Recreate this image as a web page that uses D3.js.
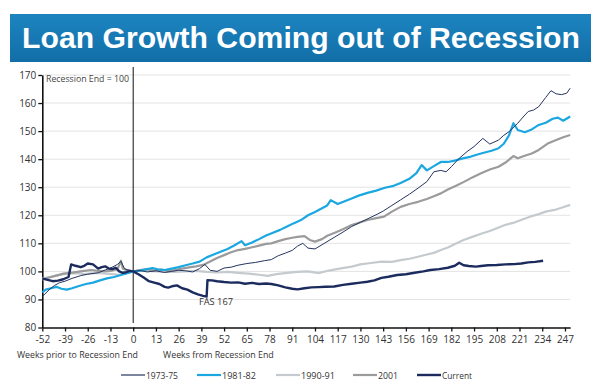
<!DOCTYPE html>
<html><head><meta charset="utf-8">
<script src="https://cdn.jsdelivr.net/npm/d3@7/dist/d3.min.js"></script>
<style>body{margin:0;background:#fff}svg{display:block}</style>
</head><body>
<svg id="c" width="600" height="381"></svg>
<script>
// ---- data: [week, index] pairs ----
const s1973 = [[-52,91],[-48,93.5],[-45,95],[-42,96],[-39,96.5],[-35,97.5],[-30,98.5],[-26,99],[-20,99.5],[-16,100.5],[-12,101.5],[-9,102.5],[-7,103.6],[-5,101],[-3,100.5],[0,100],[4,100.3],[8,99.8],[13,100.2],[18,99.6],[22,100],[26,100.4],[30,100.2],[34,99.8],[38,101],[41,102.5],[44,100.4],[48,100],[52,101.2],[56,101.5],[60,102.2],[65,102.8],[70,103.2],[75,103.8],[79,104.2],[83,105.6],[87,106.5],[91,107.5],[94,109],[97,110],[100,108.3],[104,108],[108,109.5],[112,111],[116,112.5],[120,114],[125,116],[130,117.5],[135,119],[140,120.5],[143,121.5],[148,123.5],[153,125.5],[158,127.5],[163,129.7],[168,132],[172,135.5],[176,136],[179,135.5],[182,137.3],[186,140],[191,142.7],[195,144.5],[200,147.4],[204,145.4],[209,146.8],[212,148.5],[215,149.8],[220,152.8],[223,155],[226,157],[229,157.5],[232,158.7],[236,162],[239,164.4],[242,163.3],[245,163],[248,163.5],[250,165.3]];
const s1981 = [[-52,92.5],[-50,93.5],[-47,94],[-44,94.5],[-41,93.8],[-38,93.5],[-35,94],[-31,94.8],[-27,95.5],[-23,96],[-19,96.8],[-15,97.5],[-11,98],[-7,98.7],[-4,99.3],[0,100],[4,100.3],[8,100.8],[11,101.2],[14,100.7],[18,100.5],[22,101],[26,101.5],[30,102.2],[34,102.8],[38,103.5],[42,105],[46,106],[50,107],[54,108],[58,109.3],[62,110.8],[64,109.3],[68,110.3],[72,111.5],[76,112.8],[80,113.8],[84,114.8],[88,116],[92,117.2],[96,118.3],[100,120],[104,121.2],[108,122.5],[111,123.5],[113,125.4],[117,124],[121,125],[125,126],[129,127],[134,128],[139,128.8],[144,129.8],[149,130.5],[153,131.5],[158,133],[162,135],[165,137.9],[168,136],[172,137.5],[176,139],[180,139],[184,139.5],[188,140.2],[192,140.7],[196,141.5],[200,142.2],[205,143],[209,143.9],[212,145.5],[215,148.5],[217.5,152.8],[220,150.4],[224,149.6],[228,150.6],[232,152.2],[236,153],[240,154.4],[243,154.8],[246,153.7],[250,155.2]];
const s1990 = [[-52,97.5],[-48,98],[-44,98.5],[-40,99],[-36,99.3],[-32,99.4],[-28,99],[-24,99.3],[-20,99.5],[-16,99.2],[-12,99],[-8,98.8],[-4,99.3],[0,100],[4,100.3],[8,100.2],[13,100],[18,99.8],[24,99.8],[30,100],[36,100.2],[42,99.8],[48,99.6],[54,99.8],[60,99.5],[66,99.2],[72,98.8],[77,98.4],[82,99],[88,99.5],[94,99.8],[100,100],[106,99.4],[112,100.3],[118,101],[125,101.7],[130,102.5],[136,103],[142,103.5],[148,103.4],[153,104],[158,104.5],[163,105.2],[168,106],[172,106.6],[176,107.6],[180,108.5],[185,110],[189,111.2],[194,112.3],[199,113.4],[204,114.4],[208,115.4],[213,116.6],[218,117.4],[223,118.6],[227,119.5],[232,120.4],[236,121.3],[241,121.9],[245,122.7],[250,123.7]];
const s2001 = [[-52,97],[-48,97.8],[-44,98.5],[-40,99.2],[-36,99.5],[-32,99.8],[-28,100.2],[-24,100.5],[-20,100.2],[-16,100],[-12,100.3],[-9,100.8],[-7,103.8],[-6,101],[-4,100.5],[0,100],[4,100.5],[8,100.8],[12,100.3],[16,100.6],[20,100.2],[24,100.5],[28,101],[32,101.4],[36,101.8],[40,102.3],[44,103.5],[48,104.8],[52,105.8],[56,106.8],[60,107.6],[64,108],[68,108.6],[72,109.2],[76,109.8],[79,110],[83,110.8],[87,111.5],[91,112],[94,112.3],[98,112.6],[101,111.2],[104,110.6],[108,111.5],[111,112.7],[115,113.7],[120,115],[125,116.5],[130,117.5],[134,118.3],[139,119],[143.5,119.5],[148,121.3],[153,123],[158,124],[163,124.8],[168,125.8],[172,126.8],[176,127.8],[180,129.2],[185,130.6],[189.5,132],[194,133.5],[199,135],[204,136.3],[209,137.3],[213,138.8],[217.5,141.1],[220,140.3],[224,141.2],[228,142],[232,143.3],[237.5,145.7],[242,146.8],[246,147.8],[250,148.6]];
const sCurrent = [[-52,97.5],[-49,97],[-46,96.5],[-43,96.7],[-40,97.2],[-37,98],[-35.5,102.5],[-33,102],[-30,101.5],[-28,102],[-26,102.8],[-23,102.5],[-20,101],[-18,101.5],[-16,101.8],[-14,101],[-12,100.8],[-10,101.3],[-8,100],[-6,99.5],[-4,99.7],[-2,100.2],[0,100],[3,99],[6,97.8],[9,96.5],[12,96],[15,95.5],[18,94.5],[20,94.2],[23,94.8],[25,95],[28,94],[31,93.5],[34,92.5],[37,91.8],[40,91.3],[42,91],[42.5,96.9],[45,96.8],[48,96.5],[52,96.2],[56,96],[60,96.1],[64,95.6],[68,95.9],[72,95.5],[76,95.7],[79,95.5],[83,95],[87,94.3],[91,93.8],[94,93.6],[98,94],[102,94.3],[106,94.4],[110,94.5],[115,94.6],[120,95.2],[125,95.6],[130,96],[134,96.3],[138,96.8],[142,97.7],[146,98.1],[151,98.7],[156,99],[161,99.5],[166,100],[170,100.5],[175,100.8],[180,101.3],[184,102],[186.5,103.1],[189,102.2],[192,101.9],[196,101.7],[199,101.9],[203,102.2],[208,102.3],[213,102.5],[218,102.6],[222,102.8],[226,103.2],[230,103.4],[234.5,103.8]];

const seriesNames = ["1973-75","1981-82","1990-91","2001","Current"];
const xTicks = d3.range(-52, 248, 13);
const yTicks = [80,90,100,110,120,130,140,150,160,170];
const titleText = "Loan Growth Coming out of Recession";

// ---- layout ----
const svg = d3.select("#c");
const x = d3.scaleLinear().domain([-52, 250]).range([42.3, 570.2]);
const y = d3.scaleLinear().domain([80, 170]).range([327.5, 75]);
const FONT = "'Open Sans', 'DejaVu Sans', sans-serif";

function fit(sel, w) {
  const fs = parseFloat(sel.attr("font-size"));
  const len = sel.node().getComputedTextLength();
  if (len > 0) sel.attr("font-size", (fs * w / len).toFixed(2));
  return sel;
}

// title bar
const defs = svg.append("defs");
const g = defs.append("linearGradient").attr("id","tb").attr("x1",0).attr("y1",0).attr("x2",0).attr("y2",1);
g.append("stop").attr("offset","0%").attr("stop-color","#1c84c0");
g.append("stop").attr("offset","100%").attr("stop-color","#126ea7");
svg.append("rect").attr("x",10).attr("y",14).attr("width",581).attr("height",48).attr("fill","url(#tb)");
const t = svg.append("text").attr("x",301).attr("y",48).attr("text-anchor","middle")
  .attr("font-family","'Liberation Sans', Arial, sans-serif").attr("font-weight","bold")
  .attr("font-size",28).attr("fill","#fff").text(titleText);
fit(t, 558);

// grid
svg.append("g").selectAll("line").data(yTicks.filter(d=>d>80)).join("line")
  .attr("x1",x(-52)).attr("x2",x(250)).attr("y1",d=>y(d)).attr("y2",d=>y(d))
  .attr("stroke","#e3e3e3").attr("stroke-width",1);

// vertical line at week 0
svg.append("line").attr("x1",x(0)).attr("x2",x(0)).attr("y1",67).attr("y2",323)
  .attr("stroke","#111").attr("stroke-width",1);

// axes
const yAxis = svg.append("g").attr("transform",`translate(${x(-52)},0)`)
  .call(d3.axisLeft(y).tickValues(yTicks).tickSize(4).tickSizeOuter(0).tickFormat(d => String(d)));
const xAxis = svg.append("g").attr("transform",`translate(0,${y(80)})`)
  .call(d3.axisBottom(x).tickValues(xTicks).tickSize(4).tickSizeOuter(0).tickFormat(d => String(d)));
[yAxis, xAxis].forEach(a => {
  a.select(".domain").attr("stroke","#111").attr("stroke-width",1.6);
  a.selectAll(".tick line").attr("stroke","#111").attr("stroke-width",1.3);
  a.selectAll("text").attr("font-family",FONT).attr("font-size",10).attr("fill","#333");
});
yAxis.selectAll("text").attr("x",-6);
xAxis.selectAll("text").attr("y",8);

// lines
const line = d3.line().x(d=>x(d[0])).y(d=>y(d[1]));
const styles = {
  "1973-75": {data:s1973, color:"#26345f", w:1},
  "1981-82": {data:s1981, color:"#1aa7e2", w:2.2},
  "1990-91": {data:s1990, color:"#c4cacd", w:2.2},
  "2001":    {data:s2001, color:"#9b9b9b", w:2.2},
  "Current": {data:sCurrent, color:"#1b2b5e", w:2.4}
};
["1990-91","2001","1981-82","1973-75","Current"].forEach(k => {
  const s = styles[k];
  svg.append("path").datum(s.data).attr("d",line).attr("fill","none")
    .attr("stroke",s.color).attr("stroke-width",s.w).attr("stroke-linejoin","round");
});

// annotations
fit(svg.append("text").attr("x",46).attr("y",82).attr("font-family",FONT).attr("font-size",9)
  .attr("fill","#444").text("Recession End = 100"), 83);
fit(svg.append("text").attr("x",199).attr("y",305).attr("font-family",FONT).attr("font-size",10)
  .attr("fill","#333").text("FAS 167"), 34);
fit(svg.append("text").attr("x",17).attr("y",358).attr("font-family",FONT).attr("font-size",10)
  .attr("fill","#333").text("Weeks prior to Recession End"), 121);
fit(svg.append("text").attr("x",163).attr("y",358).attr("font-family",FONT).attr("font-size",10)
  .attr("fill","#333").text("Weeks from Recession End"), 111);

// legend
const legX = {"1973-75":121,"1981-82":197,"1990-91":276,"2001":353,"Current":417};
const legW = {"1973-75":32,"1981-82":34,"1990-91":34,"2001":20,"Current":30};
seriesNames.forEach(k => {
  const s = styles[k], lx = legX[k];
  svg.append("line").attr("x1",lx).attr("x2",lx+24).attr("y1",375).attr("y2",375)
    .attr("stroke",s.color).attr("stroke-width",Math.max(s.w,1.2));
  fit(svg.append("text").attr("x",lx+25).attr("y",378.5).attr("font-family",FONT)
    .attr("font-size",9).attr("fill","#333").text(k), legW[k]);
});
</script>
</body></html>
